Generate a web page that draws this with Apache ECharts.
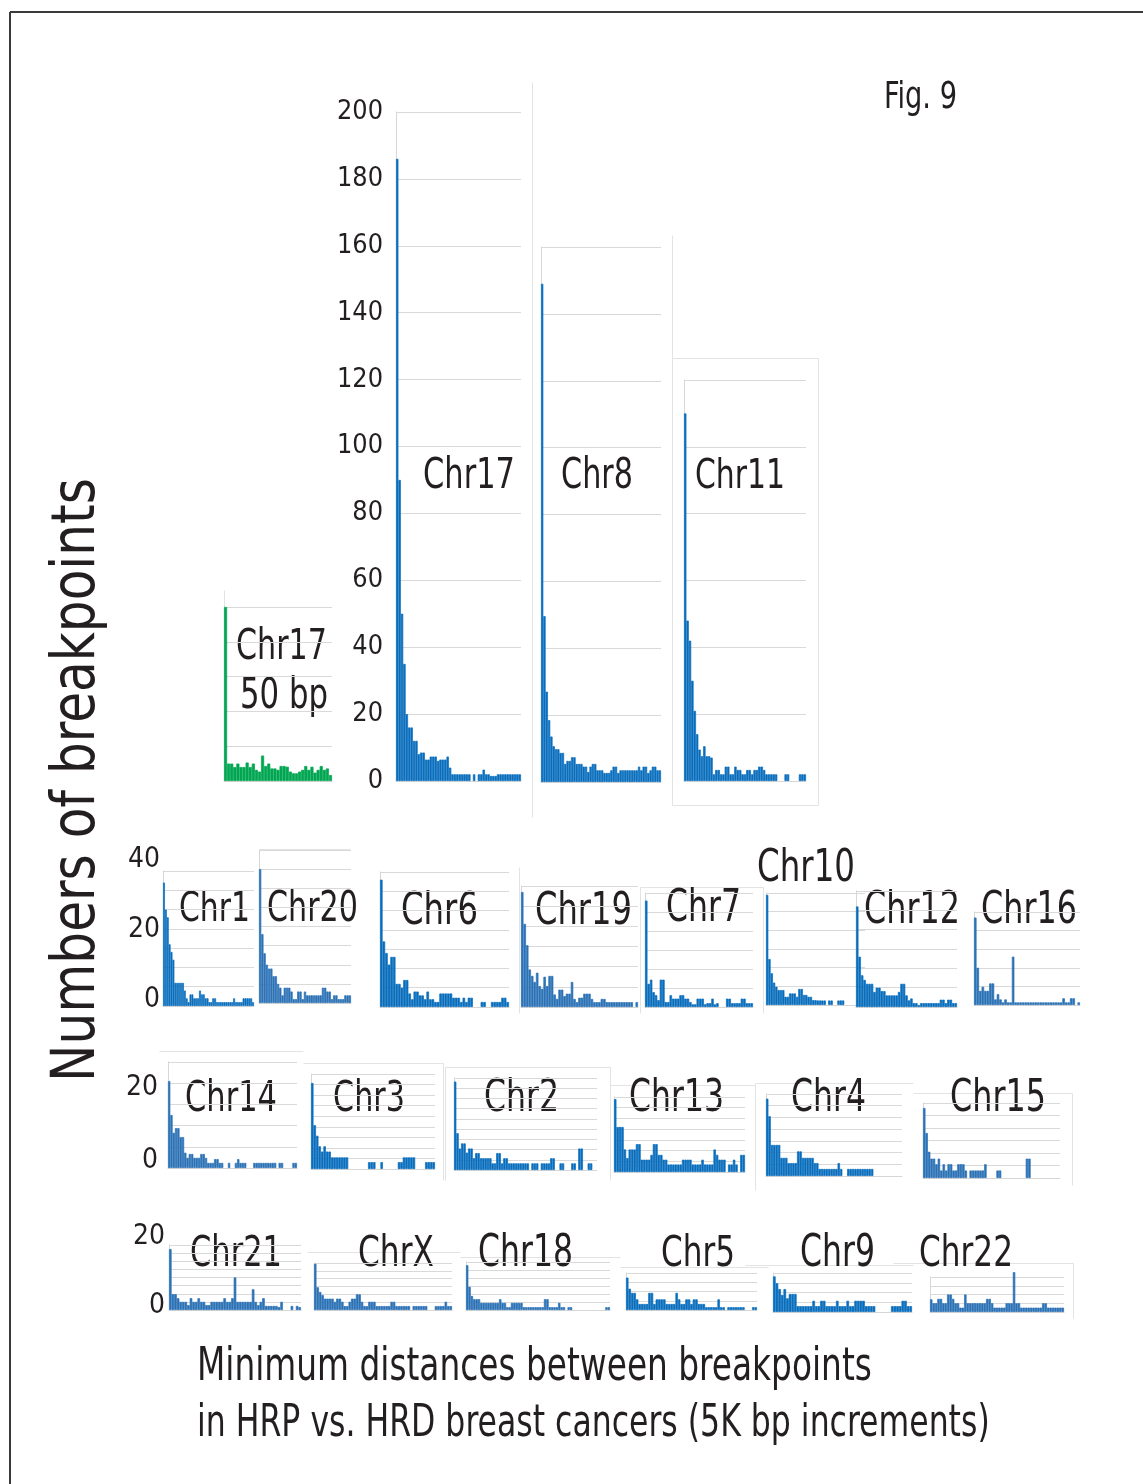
<!DOCTYPE html>
<html><head><meta charset="utf-8">
<script src="https://cdn.jsdelivr.net/npm/echarts@6/dist/echarts.min.js"></script>
<style>html,body{margin:0;padding:0;background:#fff}#c{width:1143px;height:1484px}</style>
</head><body><div id="c"></div><script>
// ---------- DATA (counts per 5K bp bin) ----------
const chr17 = [186,90,50,35,20,16,16,12,12,8,8.5,8.5,6.4,6.4,7.3,7.3,7.3,6,6.4,6.4,6.4,7.3,4,2,2,2,2,2,2,2,2,0,2,0,2,2,3.4,2,2,1.5,1.5,1.5,2,2,2,2,2,2,2,2,2,2];
const chr8 = [149,49.6,27,18.5,13.6,10.7,9.8,9.8,8.7,8.7,5.4,6.3,6.3,7.4,7.4,5.4,5.4,5.4,4.6,4.6,3,4.6,5.4,5.4,3.5,3.5,3.5,2.7,2.7,2.7,3.5,4.6,4.6,2.7,3.5,3.5,3.5,3.5,3.5,3.5,3.5,3.5,4.6,3.5,4.6,4.6,2.7,3.5,4.6,4.6,3.5,3.5];
const chr11 = [110,48,42,30,21,14,9.4,7.4,10.4,7.4,7.4,7,2,3.3,3.3,2,2,4.3,4.3,2,2,4.3,3.3,3.3,2,2,3.3,3.3,2,3.3,3.3,4.3,4.3,3.3,2,2,2,2,2,0,0,0,2,2,0,0,0,0,2,2,2];
const chr17bp50 = [50,5,5,4,5,4,4,5.3,4,5,3.2,2.7,7.3,4.3,5,3.6,3.6,3.2,4.3,4.3,4.1,2.7,2.2,2.2,2.7,3.2,4.3,3.2,4.1,2.4,3.2,4.3,3.2,3.6,1.7];

const chr1 = [32,25,23,16,14,12,6,6,6,6,6,4,2,1,3,3,2,2,2,4,3,3,2,2,1,1,2,2,1,1,1,1,1,1,1,1,1,2,1,1,1,1,2,2,2,2,2,1];
const chr20 = [35,18,13,10,9,9,7,7,5,4,2,4,4,4,3,1,1,3,3,1,3,2,2,2,2,2,2,2,4,4,3,3,1,2,2,1,1,1,2,2,2];
const chr6 = [33,17,14,11,13,13,6,6,5,7,7,3.5,2,4,4,3,3,2,4,2,2,1.3,1.3,3.5,3.5,3.5,3.5,3.5,2.4,2.4,2.4,1.3,2.4,1.3,2.4,2.4,0,0,0,1.3,1.3,0,0,1.3,1.3,1.3,1.3,2.4,2.4,1.3];
const chr19 = [28.5,20.6,15.3,9.3,7.7,6.2,8.5,5.2,4.5,7.5,5.2,7.7,7.7,3.1,2,4.3,4.3,2.7,3.3,3.3,6.2,2,1.2,2.3,2.3,3.3,3.3,3.3,2,1.2,1.2,1.2,2,2,1.2,1.2,1.2,1.2,1.2,1.2,1.2,1.2,1.2,1.2,1.2,0,1.2];
const chr7 = [28,6.1,7.2,3.9,3.1,1.8,7.2,7.2,1.3,1.3,3.1,2.2,2.2,2.2,3.1,3.1,2.2,2.2,1.3,0.7,0.7,2.2,2.2,2.2,0.7,1,1,2.2,0.7,1,0,0,0,2.2,2.2,1,1,1,1,2.2,2.2,1,1,1];
const chr10 = [29.5,12.3,8.5,6,4.9,4,4,4,2.2,2.2,3.1,3.1,3.1,2.2,4.3,4.3,2.7,2.7,2.2,2.2,1.3,1.3,1.2,1.2,1.2,1.2,0,1.2,1.2,0,0,1.2,1.2,1.2,0,0,0,0,0,0,0,0,0];
const chr12 = [26,13,8.2,7,6,6,6,3.9,5,5,4.1,4.1,3,3,3,3,3,3.9,6,6,3,1.7,2.2,1,1,0.5,1,1,1,1,1,1,1,1,1.9,1.9,1,1.9,1.9,1,1];
const chr16 = [23.5,10,3.8,4.9,3.8,3.8,5.8,5.8,1.5,2.9,1.5,0.7,1.5,0.7,0.7,13,0.7,0.7,0.7,0.7,0.7,0.7,0.7,0.7,0.7,0.7,0.7,0.7,0.7,0.7,0.7,0.7,0.7,0.7,0.7,1.8,0.7,0.7,1.8,1.8,0,0.7];

const chr14 = [20.5,12.5,8.3,9.4,9.4,7.3,7.3,3.6,2.4,3.3,3.3,2.4,2.4,2.4,3.3,3.3,2.4,1.2,1.2,1.2,2.1,2.1,1.2,1.2,0,0,1.2,0,0,1.2,2.1,1.2,1.2,1.2,0,0,0,1.2,1.2,1.2,1.2,1.2,1.2,1.2,1.2,1.2,1.2,0,1.2,1.2,0,0,0,0,1.2,1.2];
const chr3 = [16.3,8.3,6.3,4.3,3.3,4.3,3.3,3.3,2.2,2.2,2.2,2.2,2.2,2.2,2.2,0,0,0,0,0,0,0,0,1.3,1.3,1.3,0,0,1.3,0,0,0,0,0,0,1.3,1.3,2.2,2.2,2.2,2.2,2.2,0,0,0,0,1.3,1.3,1.3,1.3];
const chr2 = [17.3,7.2,4.2,5.2,5.2,3.4,4.2,4.2,2.3,3.3,3.3,2.3,2.3,2.3,2.3,2.3,1.3,1.3,3.3,3.3,1.3,2.3,2.3,1.3,1.3,1.3,1.3,1.3,1.3,1.3,1.3,1.3,0,1.3,1.3,1.3,0,1.3,1.3,1.3,1.3,2.3,2.3,0,0,1.3,1.3,0,0,0,1.3,1.3,0,4.2,4.2,0,0,1.3,1.3,0,0];
const chr13 = [13.6,8.4,8.4,8.4,4.2,2.6,4.2,4.2,4.2,5.2,5.2,2.3,2.3,2.3,2.3,3.2,5.2,5.2,3.2,3.2,2.3,2.3,1.4,1.4,1.4,1.4,1.4,1.4,2.3,2.3,2.3,2.3,1.4,1.4,1.4,1.4,2.3,1.4,1.4,1.4,1.4,4.2,3.2,2.3,2.3,2.3,0,1.4,1.4,2.3,1.4,0,3.2,3.2];
const chr4 = [13.2,10.2,5.3,5.3,5.3,5.3,3.1,3.1,3.1,2.2,2.2,2.2,2.2,4.2,4.2,3.1,3.1,3.1,3.1,3.1,2.2,2.2,1.2,1.2,1.2,1.2,1.2,1.2,1.2,1.2,2.2,1.2,0,0,1.2,1.2,1.2,1.2,1.2,1.2,1.2,1.2,1.2,1.2,1.2,0,0,0,0,0,0,0,0,0,0,0,0];
const chr15 = [11.2,7.2,4.2,3.1,3.1,2.2,3.1,1.2,2.2,1.2,2.2,2.2,1.2,1.2,2.2,2.2,2.2,1.2,0,1.2,1.2,1.2,1.2,1.2,1.2,2.2,0,0,0,0,1.2,1.2,0,0,0,0,0,0,0,0,0,0,3.1,3.1,0,0,0,0,0,0,0,0,0,0,0,0];

const chr21 = [15,3.9,3.9,2.9,2,2,2,1.2,2.9,2,2,2.9,2,2,1.2,1.2,2,2,2,2,2,2.9,2,2,2.9,8,2,2,2,2,2,2,5.1,2,1.2,2,2.9,1,1,1,1,1,0.7,2,0,0,0,1,0,1,0.7];
const chrX = [11.8,5.8,4.6,3.8,2.9,2.9,2.9,2.9,2.1,2.9,2.9,2.1,1,1,2.1,2.9,2.9,4,4,2.1,1,1,2.1,2.1,2.1,1,1,1,1,1,1,2.1,2.1,1,1,1,1,1,1,0,1,1,1,1,1,1,0,0,0,1,1,1,1,2.1,1,1];
const chr18 = [11.2,5.8,3.5,2.7,2.7,2.7,1.8,1.8,1.8,1.8,1.8,1.8,1.8,1.8,2.7,1.8,1.8,0.7,0.7,1.8,1.8,1.8,1.8,1.8,0.7,0.7,0.7,0.7,0.7,0.7,0.7,0.7,0.7,2.7,2.7,0.7,0.7,0.7,0.7,1.8,0.7,0.7,0,0.7,0.7,0,0,0,0,0,0,0,0,0,0,0,0,0,0,0.7,0.7];
const chr5 = [7,4.6,3.7,3.7,2.3,1.3,1.3,1.3,1.3,3.7,3.7,1.3,2.3,2.3,2.3,2.3,1.3,1.3,1.3,1.3,3.7,2.3,1.3,1.3,2.3,2.3,1.3,2.3,2.3,1.3,1.3,1.3,0.6,0.6,0.6,0.6,0.6,2.3,0.6,0.6,0,0.6,0.6,0.6,0.6,0.6,0.6,0.6,0,0,0,0.6,0.6];
const chr9 = [7.3,5.9,4.7,3.5,4.7,2.8,3.7,3.7,3.7,1.2,1.2,1.2,1.2,1.2,1.2,2.3,1.2,1.2,2.3,2.3,1.2,1.2,1.2,1.2,2.3,1.2,1.2,1.2,2.3,1.2,1.2,2.3,2.3,2.3,2.3,1.2,1.2,1.2,1.2,0,0,0,0,0,0,1.2,1.2,1.2,1.2,2.3,2.3,1.2,1.2];
const chr22 = [2.9,2,2,3,3,2,2,4,4,3,2,2,1,1,4,2,2,2,2,2,2,2,2,3,3,2,1,1,1,1,1,2,2,2,9.1,2,2,1,1,1,1,1,1,1,1,1,2,2,1,1,1,1,1,1,1];

// tick labels of the shared row axes
const bigTicks = [0,20,40,60,80,100,120,140,160,180,200];
const row2Ticks = [0,20,40];
const row3Ticks = [0,20];
const row4Ticks = [0,20];

// ---------- LAYOUT ----------
const BLUE = '#0A6EBD', BLUE2 = '#2C72B6', GREEN = '#00A651';
const panels = [
  {d: chr17, box:[396,112,125,669], max:200, step:20, c:BLUE, ticks:true},
  {d: chr8,  box:[541,247,120,535], max:160, step:20, c:BLUE},
  {d: chr11, box:[684,380,122,401], max:120, step:20, c:BLUE},
  {d: chr17bp50, box:[224,607,108,174], max:50, step:10, c:GREEN},
  {d: chr1,  box:[163,871,91,135],  max:35, step:5, c:BLUE},
  {d: chr20, box:[259,850,92,153],  max:40, step:5, c:BLUE2},
  {d: chr6,  box:[380,872,129,135], max:35, step:5, c:BLUE},
  {d: chr19, box:[521,886,117,121], max:30, step:5, c:BLUE2},
  {d: chr7,  box:[645,893,108,114], max:30, step:5, c:BLUE},
  {d: chr10, box:[766,893,99,112],  max:30, step:5, c:BLUE},
  {d: chr12, box:[856,891,101,116], max:30, step:5, c:BLUE},
  {d: chr16, box:[974,912,106,93],  max:25, step:5, c:BLUE2},
  {d: chr14, box:[168,1062,129,106], max:25, step:5, c:BLUE2},
  {d: chr3,  box:[311,1074,124,95],  max:18, step:2, c:BLUE},
  {d: chr2,  box:[454,1078,143,92],  max:18, step:2, c:BLUE},
  {d: chr13, box:[614,1097,131,75],  max:14, step:2, c:BLUE},
  {d: chr4,  box:[766,1094,136,82],  max:14, step:2, c:BLUE},
  {d: chr15, box:[923,1103,137,75],  max:12, step:2, c:BLUE2},
  {d: chr21, box:[169,1245,132,65],  max:16, step:2, c:BLUE2},
  {d: chrX,  box:[314,1263,138,47],  max:12, step:2, c:BLUE2},
  {d: chr18, box:[466,1262,144,48],  max:12, step:2, c:BLUE2},
  {d: chr5,  box:[626,1273,131,37],  max:8,  step:2, c:BLUE},
  {d: chr9,  box:[773,1273,139,39],  max:8,  step:2, c:BLUE},
  {d: chr22, box:[930,1277,134,35],  max:8,  step:2, c:BLUE2}
];
// label-only axes for rows 2-4
const rowAxes = [
  {t: row2Ticks, right:160, top:860, bottom:1000},
  {t: row3Ticks, right:158, top:1088, bottom:1161},
  {t: row4Ticks, right:165, top:1237, bottom:1306}
];

// ---------- FONT ----------
function hasFont(n){const c=document.createElement('canvas').getContext('2d');const s='Chr17 Numbers wiMl 0123';c.font='40px monospace';const a=c.measureText(s).width;c.font="40px '"+n+"', monospace";return Math.abs(c.measureText(s).width-a)>0.5;}
const FAM = ['Liberation Sans Narrow','DejaVu Sans Condensed','Roboto'].find(hasFont) || 'sans-serif';
const mctx = document.createElement('canvas').getContext('2d');
function fit(text, w){ mctx.font = "100px '"+FAM+"'"; return 100*w/mctx.measureText(text).width; }
const INK = '#231F20';
const TALL = 1.25; // original lettering is condensed: draw taller, squeeze horizontally

// ---------- TEXTS ----------
const texts = [
  ['Fig. 9', 884, 98, 73],
  ['Chr17', 423, 477, 92], ['Chr8', 561, 477, 72], ['Chr11', 695, 477, 90],
  ['Chr17', 236, 648, 91], ['50 bp', 240, 697, 88],
  ['Chr1', 179, 910, 71], ['Chr20', 267, 910, 91], ['Chr6', 401, 912, 77], ['Chr19', 535, 912, 97],
  ['Chr7', 666, 910, 75], ['Chr10', 757, 869, 98], ['Chr12', 864, 912, 96], ['Chr16', 981, 912, 96],
  ['Chr14', 185, 1100, 92], ['Chr3', 333, 1100, 72], ['Chr2', 484, 1100, 75], ['Chr13', 629, 1100, 95],
  ['Chr4', 791, 1100, 75], ['Chr15', 950, 1100, 96],
  ['Chr21', 190, 1255, 92], ['ChrX', 358, 1255, 76], ['Chr18', 478, 1255, 95], ['Chr5', 661, 1255, 74],
  ['Chr9', 800, 1255, 75], ['Chr22', 919, 1255, 94],
  ['Minimum distances between breakpoints', 197, 1368, 675],
  ['in HRP vs. HRD breast cancers (5K bp increments)', 197, 1425, 793]
];
const FR = '#E3E3E3';
const frameLines = [
  [532,82,532,817],[672,235,672,358],[672,358,818,358],[818,358,818,805],[672,805,818,805],[672,358,672,805],
  [224,590,224,607],
  [259,849,350,849],[519,867,519,1013],
  [640,887,763,887],[763,887,763,1013],[640,887,640,1013],
  [159,1051,303,1051],[303,1063,443,1063],[443,1063,443,1180],
  [445,1067,610,1067],[445,1067,445,1180],[610,1067,610,1180],
  [610,1085,755,1085],[755,1083,913,1083],[755,1083,755,1190],
  [913,1093,1072,1093],[1072,1093,1072,1185],
  [307,1252,460,1252],[460,1257,610,1257],[600,1257,620,1257],[620,1267,768,1267],
  [745,1265,913,1265],[893,1263,1073,1263],[1073,1263,1073,1318]
];

const graphic = [
  {type:'line', shape:{x1:10,y1:12,x2:1143,y2:12}, style:{stroke:'#3A3A3A', lineWidth:2}},
  {type:'line', shape:{x1:10,y1:12,x2:10,y2:1484}, style:{stroke:'#3A3A3A', lineWidth:2}}
];
frameLines.forEach(l => graphic.push({type:'line', shape:{x1:l[0]+0.5,y1:l[1]+0.5,x2:l[2]+0.5,y2:l[3]+0.5}, style:{stroke:FR, lineWidth:1}}));
texts.forEach(t => graphic.push({type:'text', x:t[1], y:t[2], scaleX:1/TALL, scaleY:1,
  style:{text:t[0], fontFamily:FAM, fontSize:fit(t[0],t[3])*TALL, fill:INK, align:'left', verticalAlign:'middle'}}));
graphic.push({type:'text', x:78, y:780, rotation:Math.PI/2, scaleX:1/1.08,
  style:{text:'Numbers of breakpoints', fontFamily:FAM, fontSize:fit('Numbers of breakpoints',604)*1.08, fill:INK, align:'center', verticalAlign:'middle'}});

// ---------- OPTION ----------
const grid=[], xAxis=[], yAxis=[], series=[];
const tickSize = fit('200', 46), rowTickSize = fit('40', 32);
panels.forEach((p,i) => {
  grid.push({left:p.box[0], top:p.box[1], width:p.box[2], height:p.box[3], containLabel:false});
  xAxis.push({type:'category', gridIndex:i, data:p.d.map((_,k)=>(k+1)*5), axisTick:{show:false}, axisLabel:{show:false},
    axisLine:{show:true, lineStyle:{color:'#D6D6D6', width:1}}, splitLine:{show:false}});
  yAxis.push({type:'value', gridIndex:i, min:0, max:p.max, interval:p.step,
    axisLine:{show:true, lineStyle:{color:'#D6D6D6', width:1}}, axisTick:{show:false},
    splitLine:{show:true, lineStyle:{color:'#D9D9D9', width:1.2}},
    axisLabel:{show:!!p.ticks, fontFamily:FAM, fontSize:tickSize, color:INK, margin:13,
      customValues: p.ticks ? bigTicks : undefined}});
  series.push({type:'bar', xAxisIndex:i, yAxisIndex:i,
    data:p.d.map(v => v > 0 ? v : {value:v, itemStyle:{borderWidth:0, opacity:0}}),
    barCategoryGap:'0%', clip:false,
    itemStyle:{color:p.c, borderColor:p.c, borderWidth:0.7}, silent:true, animation:false});
});
rowAxes.forEach(r => {
  const gi = grid.length;
  grid.push({left:r.right, top:r.top, width:1, height:r.bottom-r.top});
  xAxis.push({type:'value', gridIndex:gi, show:false});
  yAxis.push({type:'value', gridIndex:gi, min:0, max:r.t[r.t.length-1], interval:r.t[1]-r.t[0],
    axisLine:{show:false}, axisTick:{show:false}, splitLine:{show:false},
    axisLabel:{show:true, margin:0, fontFamily:FAM, fontSize:rowTickSize, color:INK}});
});

const chart = echarts.init(document.getElementById('c'), null, {renderer:'canvas'});
chart.setOption({animation:false, backgroundColor:'#fff', grid, xAxis, yAxis, series, graphic});
</script></body></html>
